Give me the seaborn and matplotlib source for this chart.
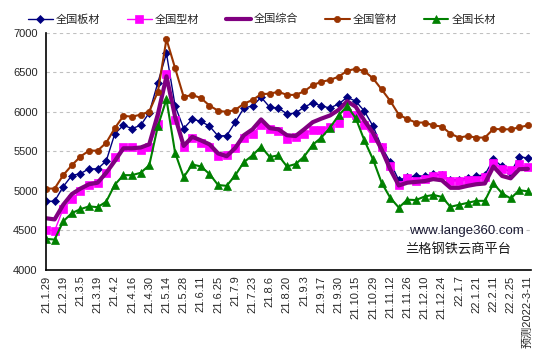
import numpy as np
import pandas as pd
import seaborn as sns
import matplotlib.pyplot as plt

# weekly price index, 57 points (labels every second week)
tick_labels = ['21.1.29', '21.2.19', '21.3.5', '21.3.19', '21.4.2', '21.4.16', '21.4.30',
               '21.5.14', '21.5.28', '21.6.11', '21.6.25', '21.7.9', '21.7.23', '21.8.6',
               '21.8.20', '21.9.3', '21.9.17', '21.9.30', '21.10.15', '21.10.29', '21.11.12',
               '21.11.26', '21.12.10', '21.12.24', '22.1.7', '22.1.21', '22.2.11', '22.2.25',
               '预测2022-3-11']

plate = [4870, 4870, 5055, 5195, 5220, 5280, 5280, 5380, 5725, 5830,
         5790, 5830, 5990, 6370, 6740, 6080, 5790, 5910, 5880, 5820,
         5695, 5700, 5870, 6050, 6075, 6185, 6060, 6050, 5975, 5985,
         6060, 6115, 6075, 6050, 6100, 6185, 6135, 6010, 5820, 5560,
         5365, 5135, 5175, 5190, 5190, 5210, 5205, 5140, 5140, 5165,
         5190, 5205, 5400, 5310, 5230, 5435, 5415]

section = [4510, 4495, 4775, 4895, 4995, 5070, 5100, 5225, 5430, 5555,
           5550, 5520, 5560, 5845, 6480, 5900, 5560, 5675, 5610, 5555,
           5440, 5455, 5540, 5670, 5725, 5835, 5790, 5760, 5660, 5685,
           5725, 5770, 5770, 5815, 5855, 5985, 5955, 5835, 5675, 5550,
           5310, 5075, 5165, 5125, 5150, 5190, 5200, 5125, 5125, 5145,
           5145, 5175, 5360, 5280, 5265, 5335, 5300]

composite = [4655, 4640, 4825, 4960, 5030, 5085, 5105, 5230, 5380, 5540,
             5540, 5550, 5590, 5970, 6450, 5940, 5570, 5685, 5640, 5590,
             5475, 5440, 5545, 5705, 5780, 5905, 5795, 5780, 5705, 5695,
             5780, 5870, 5915, 5955, 6025, 6135, 6065, 5890, 5735, 5525,
             5275, 5070, 5105, 5115, 5125, 5150, 5135, 5040, 5040, 5065,
             5085, 5095, 5310, 5190, 5160, 5275, 5280]

pipe = [5030, 5030, 5200, 5325, 5435, 5510, 5510, 5610, 5795, 5950,
        5940, 5965, 6005, 6255, 6920, 6555, 6190, 6215, 6175, 6080,
        6015, 6000, 6025, 6105, 6150, 6225, 6230, 6255, 6215, 6215,
        6260, 6340, 6380, 6405, 6445, 6520, 6545, 6515, 6425, 6285,
        6140, 5965, 5910, 5865, 5865, 5830, 5815, 5725, 5675, 5695,
        5675, 5675, 5785, 5780, 5780, 5805, 5830]

long_ = [4395, 4385, 4615, 4720, 4770, 4805, 4795, 4865, 5080, 5200,
         5200, 5230, 5325, 5820, 6160, 5485, 5175, 5335, 5310, 5215,
         5075, 5065, 5200, 5365, 5450, 5560, 5430, 5450, 5310, 5340,
         5435, 5585, 5675, 5800, 5955, 6075, 5920, 5640, 5400, 5105,
         4915, 4790, 4890, 4885, 4930, 4950, 4925, 4800, 4825, 4850,
         4875, 4875, 5095, 4970, 4905, 5010, 4995]

series = [('全国板材', plate, '#000080', 'D', 1.0, 4.5),
          ('全国型材', section, '#FF00FF', 's', 1.0, 5.5),
          ('全国综合', composite, '#800080', None, 3.0, 0),
          ('全国管材', pipe, '#993300', 'o', 1.5, 4.5),
          ('全国长材', long_, '#008000', '^', 1.5, 5.5)]

sns.set_theme(style="white")
plt.rcParams['font.family'] = ['Liberation Sans', 'Noto Sans CJK SC']
plt.rcParams['axes.unicode_minus'] = False

fig = plt.figure(figsize=(5.43, 3.61), dpi=100)
ax = fig.add_axes([0.0847, 0.252, 0.893, 0.657])

x = np.arange(len(plate))
for name, vals, color, marker, lw, ms in series:
    df = pd.DataFrame({'week': x, 'price': vals})
    sns.lineplot(data=df, x='week', y='price', ax=ax, color=color, linewidth=lw,
                 marker=marker, markersize=ms, markeredgecolor=color,
                 markeredgewidth=0.5, label=name, legend=False)

ax.set_ylim(4000, 7000)
ax.set_xlim(0, 56.35)
ax.set_yticks(np.arange(4000, 7001, 500))
ax.set_xticks(np.arange(0, 57, 2))
ax.set_xticklabels(tick_labels, rotation=90, fontsize=8)
ax.tick_params(axis='y', labelsize=8, direction='in', length=4, width=0.8, pad=6)
ax.tick_params(axis='x', direction='in', length=4, width=0.8, pad=4)
ax.set_xlabel('')
ax.set_ylabel('')
ax.yaxis.grid(True, color='#c0c0c0', linestyle=(0, (3, 3)), linewidth=0.8)
ax.set_axisbelow(True)
for s in ['top', 'right']:
    ax.spines[s].set_visible(False)
for s in ['left', 'bottom']:
    ax.spines[s].set_color('black')
    ax.spines[s].set_linewidth(1.2)

# watermark
ax.text(0.985, 0.165, 'www.lange360.com', transform=ax.transAxes, ha='right',
        va='center', fontsize=9.5, color='#1a1a33')
ax.text(0.96, 0.082, '兰格钢铁云商平台', transform=ax.transAxes, ha='right',
        va='center', fontsize=9.5, color='#1a1a1a')

handles, labels = ax.get_legend_handles_labels()
fig.legend(handles, labels, loc='center', bbox_to_anchor=(0.483, 0.947), ncol=5,
           frameon=False, fontsize=8, handlelength=2.2, handletextpad=0.3,
           columnspacing=2.4)

fig.savefig('out.png', dpi=100)
